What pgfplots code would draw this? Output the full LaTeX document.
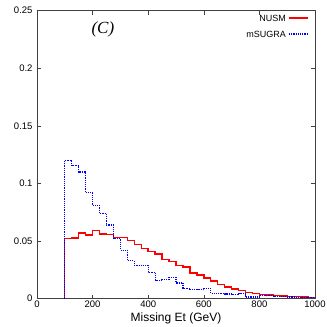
\documentclass[border=0pt]{standalone}
\usepackage{pgfplots}
\pgfplotsset{compat=1.18}
\usepackage{fontspec}
\setmainfont{Liberation Sans}
\newfontfamily\serifit{Liberation Serif}

\begin{document}
\begin{tikzpicture}
\begin{axis}[
    scale only axis,
    width=278pt, height=288pt,
    xmin=0, xmax=1000, ymin=0, ymax=0.25,
    xtick={0,200,400,600,800,1000},
    ytick={0,0.05,0.1,0.15,0.2,0.25},
    yticklabels={0,0.05,0.1,0.15,0.2,0.25},
    tick align=inside, tick pos=both,
    major tick length=4pt,
    axis line style={black!75, line width=0.8pt},
    tick style={black!75, line width=0.6pt},
    /pgf/number format/assume math mode=true,
    /pgf/number format/1000 sep={},
    tick label style={font=\fontsize{9.5}{11}\selectfont},
    xticklabel style={yshift=1pt},
    yticklabel style={xshift=-1pt},
    xlabel={Missing Et (GeV)},
    xlabel style={font=\fontsize{12}{13}\selectfont, yshift=2pt},
]
\addplot[red, line width=1.4pt, const plot mark left] coordinates {
(100,0) (100,0.052) (125,0.0526) (150,0.057) (175,0.0552) (200,0.059) (225,0.056)
(250,0.0555) (275,0.053) (300,0.053) (325,0.0506) (350,0.047) (375,0.0436)
(400,0.041) (425,0.0387) (450,0.034) (475,0.0324) (500,0.0286) (525,0.0275)
(550,0.0223) (575,0.0205) (600,0.018) (625,0.0153) (650,0.0121) (675,0.0101)
(700,0.0084) (725,0.0069) (750,0.0052) (775,0.0043) (800,0.0038) (825,0.0032)
(850,0.0026) (875,0.0023) (900,0.002) (925,0.0017) (950,0.0014) (975,0.0012)
(1000,0.0012)
};
\addplot[blue, line width=1.2pt, densely dotted, const plot mark left] coordinates {
(100,0) (100,0.120) (125,0.1156) (150,0.110) (175,0.092) (200,0.081) (225,0.074)
(250,0.064) (275,0.052) (300,0.042) (325,0.033) (350,0.029) (375,0.029)
(400,0.023) (425,0.0159) (450,0.017) (475,0.0185) (500,0.0136) (525,0.009)
(550,0.0078) (575,0.0078) (600,0.009) (625,0.0045) (650,0.0045) (675,0.004)
(700,0.0035) (725,0.0042) (750,0.0015) (775,0.0015) (800,0.0028) (825,0.0025)
(850,0.002) (875,0.0018) (900,0.0015) (925,0.0012) (950,0.001) (975,0.0008)
(1000,0.0008)
};
% legend
\node[anchor=east, font=\fontsize{9}{10}\selectfont, inner sep=0pt] at (rel axis cs:0.8957,0.9747) {NUSM};
\node[anchor=east, font=\fontsize{9}{10}\selectfont, inner sep=0pt] at (rel axis cs:0.8957,0.919) {mSUGRA};
\draw[red, line width=1.4pt] (rel axis cs:0.9065,0.9747) -- (rel axis cs:0.9748,0.9747);
\draw[blue, line width=1.2pt, densely dotted] (rel axis cs:0.9065,0.919) -- (rel axis cs:0.9748,0.919);
\node[font=\serifit\itshape\fontsize{17}{19}\selectfont] at (axis cs:237,0.2335) {(C)};
\coordinate (bl) at (rel axis cs:0,0);
\coordinate (tr) at (rel axis cs:1,1);
\end{axis}
\pgfresetboundingbox
\path ([shift={(-37pt,-28pt)}]bl) rectangle ([shift={(12pt,10.7pt)}]tr);
\end{tikzpicture}
\end{document}
